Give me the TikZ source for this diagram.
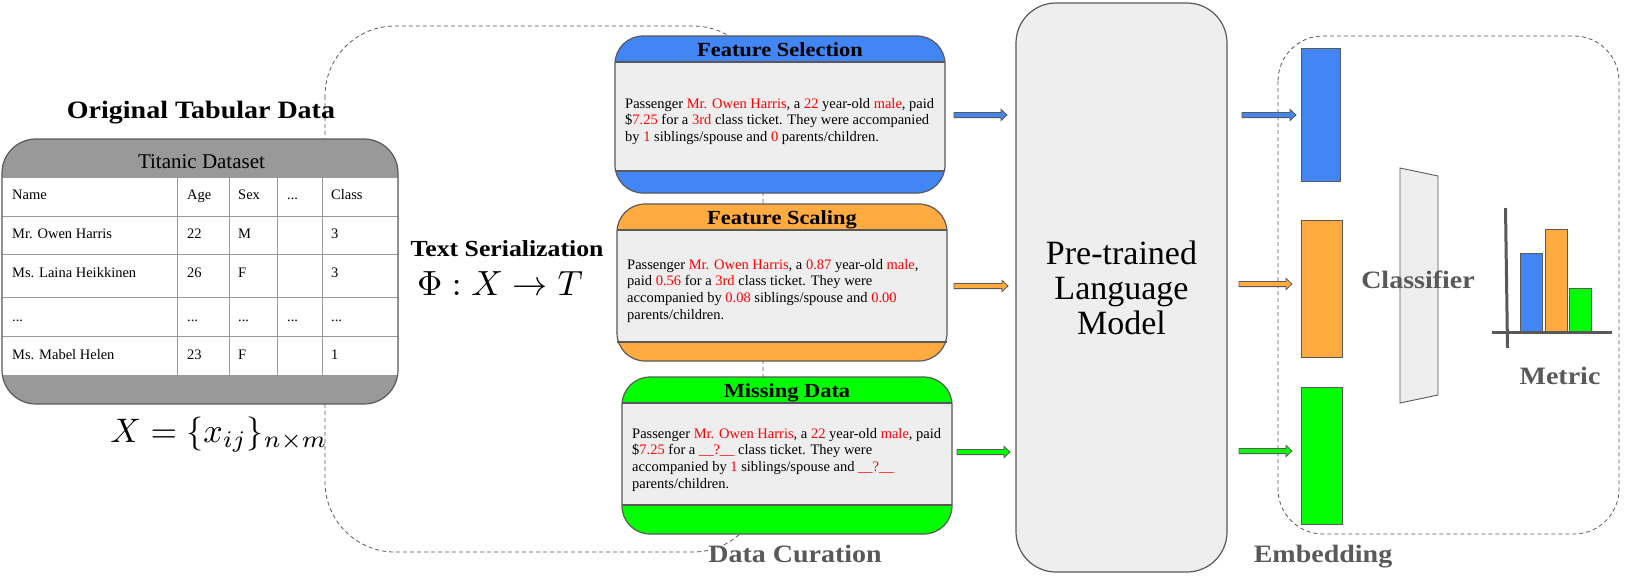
\documentclass[tikz,border=0pt]{standalone}
\usepackage{graphicx}
\usepackage{fontspec}
\setmainfont{Liberation Serif}
\newfontfamily\bfam{Liberation Serif}[FakeStretch=1.12]
\usetikzlibrary{calc}
\definecolor{cblue}{RGB}{66,133,244}
\definecolor{corange}{RGB}{255,171,64}
\definecolor{cgreen}{RGB}{0,255,0}
\definecolor{cbody}{RGB}{238,238,238}
\definecolor{cborder}{RGB}{89,89,89}
\definecolor{ctab}{RGB}{153,153,153}
\definecolor{cred}{RGB}{255,0,0}
\definecolor{clabel}{RGB}{89,89,89}
\newcommand{\rtx}[1]{\textcolor{cred}{#1}}
\tikzset{
  dashbox/.style={draw=cborder, line width=0.8pt, dash pattern=on 4pt off 3pt},
  outl/.style={draw=cborder, line width=1.2pt},
  tline/.style={draw=ctab, line width=1pt},
  bodytxt/.style={inner sep=0, align=left, anchor=north west, font=\fontsize{14.5}{16.6}\selectfont},
  boxtitle/.style={inner sep=0, anchor=base, font=\bfam\bfseries\fontsize{20}{22}\selectfont},
  graylabel/.style={inner sep=0, anchor=base, text=clabel, font=\bfam\bfseries\fontsize{25}{27}\selectfont},
  bigtitle/.style={inner sep=0, anchor=base, font=\bfam\bfseries\fontsize{25}{27}\selectfont},
  cell/.style={inner sep=0, anchor=base west, font=\fontsize{14.5}{16}\selectfont},
  embr/.style={draw=cborder, line width=1pt, inner sep=0},
  bar/.style={draw=cborder, line width=1pt, inner sep=0, anchor=south, minimum width=22pt},
  blockarr/.style={draw=cborder, line width=0.8pt, fill=#1,
    to path={let \p1=(\tikztostart), \p2=(\tikztotarget) in
      (\x1,\y1+2.6pt) -- (\x2-6pt,\y1+2.6pt) -- (\x2-6pt,\y1+5.6pt) -- (\x2,\y1)
      -- (\x2-6pt,\y1-5.6pt) -- (\x2-6pt,\y1-2.6pt) -- (\x1,\y1-2.6pt) -- cycle}},
}
\newcommand{\featbox}[7]{%
  \fill[#7, rounded corners=28pt] (#1,#2) rectangle (#3,#4);
  \fill[cbody] (#1,#5) rectangle (#3,#6);
  \draw[outl] (#1,#5) -- (#3,#5) (#1,#6) -- (#3,#6);
  \draw[outl, rounded corners=28pt] (#1,#2) rectangle (#3,#4);
}
\begin{document}
\begin{tikzpicture}[x=1pt,y=-1pt]
\useasboundingbox (0,0) rectangle (1632,576);
\fill[white] (0,0) rectangle (1632,576);

% dashed group frames
\draw[dashbox, rounded corners=70pt] (325,26) rectangle (763,552);
\draw[dashbox, rounded corners=45pt] (1278,36) rectangle (1619,534);

% ---------- Original tabular data ----------
\node[bigtitle] (ttl) at (201,118.3) {Original Tabular Data};
\coordinate (tnw) at (2,139);
\coordinate (tse) at (398,404);
\fill[ctab, rounded corners=34pt] (tnw) rectangle (tse);
\begin{scope}
  \clip[rounded corners=34pt] (tnw) rectangle (tse);
  \fill[white] (2,177) rectangle (398,375);
\end{scope}
\foreach \yy in {177,216,254,297,336,375} \draw[tline] (2,\yy) -- (398,\yy);
\foreach \xx in {177,229,277,322} \draw[tline] (\xx,177) -- (\xx,375);
\draw[outl, rounded corners=34pt] (tnw) rectangle (tse);
\node[inner sep=0, anchor=base, font=\fontsize{21}{23}\selectfont] (tth) at (201.5,168.6) {Titanic Dataset};

\node[cell] (c11) at (12,199) {Name};
\node[cell] (c12) at (187,199) {Age};
\node[cell] (c13) at (238,199) {Sex};
\node[cell] (c14) at (287,199) {...};
\node[cell] (c15) at (331,199) {Class};
\node[cell] (c21) at (12,238) {Mr. Owen Harris};
\node[cell] (c22) at (187,238) {22};
\node[cell] (c23) at (238,238) {M};
\node[cell] (c25) at (331,238) {3};
\node[cell] (c31) at (12,277) {Ms. Laina Heikkinen};
\node[cell] (c32) at (187,277) {26};
\node[cell] (c33) at (238,277) {F};
\node[cell] (c35) at (331,277) {3};
\node[cell] (c41) at (12,321) {...};
\node[cell] (c42) at (187,321) {...};
\node[cell] (c43) at (238,321) {...};
\node[cell] (c44) at (287,321) {...};
\node[cell] (c45) at (331,321) {...};
\node[cell] (c51) at (12,359) {Ms. Mabel Helen};
\node[cell] (c52) at (187,359) {23};
\node[cell] (c53) at (238,359) {F};
\node[cell] (c55) at (331,359) {1};

\node[inner sep=0, anchor=base] (xform) at (219,442) {\scalebox{3.4}{$X=\{x_{ij}\}_{n\times m}$}};

% ---------- Text serialization ----------
\node[bigtitle, font=\bfam\bfseries\fontsize{23}{25}\selectfont] (ts) at (507,256.6) {Text Serialization};
\node[inner sep=0, anchor=base] (phi) at (500,295) {\scalebox{3.5}{$\Phi : X \to T$}};

% ---------- Curated boxes ----------
\featbox{615}{36}{945}{193}{62}{171}{cblue}
\node[boxtitle] (fst) at (780,56.6) {Feature Selection};
\node[bodytxt] (fsb) at (625,98) {Passenger \rtx{Mr. Owen Harris}, a \rtx{22} year-old \rtx{male}, paid\\
\$\rtx{7.25} for a \rtx{3rd} class ticket. They were accompanied\\
by \rtx{1} siblings/spouse and \rtx{0} parents/children.};

\featbox{617}{204}{947}{361}{230}{342}{corange}
\node[boxtitle] (fct) at (782,224.6) {Feature Scaling};
\node[bodytxt] (fcb) at (627,259) {Passenger \rtx{Mr. Owen Harris}, a \rtx{0.87} year-old \rtx{male},\\
paid \rtx{0.56} for a \rtx{3rd} class ticket. They were\\
accompanied by \rtx{0.08} siblings/spouse and \rtx{0.00}\\
parents/children.};

\featbox{622}{377}{952}{534}{403}{505}{cgreen}
\node[boxtitle] (mdt) at (787,397.6) {Missing Data};
\node[bodytxt] (mdb) at (632,428) {Passenger \rtx{Mr. Owen Harris}, a \rtx{22} year-old \rtx{male}, paid\\
\$\rtx{7.25} for a \rtx{\_\_?\_\_} class ticket. They were\\
accompanied by \rtx{1} siblings/spouse and \rtx{\_\_?\_\_}\\
parents/children.};

\node[graylabel] (dc) at (795,562) {Data Curation};

% ---------- Language model ----------
\node[draw=cborder, line width=1.2pt, fill=cbody, rounded corners=40pt,
      minimum width=211pt, minimum height=569pt, inner sep=0, align=center,
      font=\fontsize{34}{35}\selectfont] (lm) at (1121.5,287.5) {Pre-trained\\Language\\Model};

\coordinate (a1s) at (954,115);  \coordinate (a1e) at (1007,115);
\coordinate (a2s) at (954,286);  \coordinate (a2e) at (1008,286);
\coordinate (a3s) at (957,452);  \coordinate (a3e) at (1010,452);
\draw[blockarr=cblue] (a1s) to (a1e);
\draw[blockarr=corange] (a2s) to (a2e);
\draw[blockarr=cgreen] (a3s) to (a3e);

% ---------- Embeddings ----------
\node[embr, fill=cblue, minimum width=39pt, minimum height=133pt] (eb) at (1320.5,114.5) {};
\node[embr, fill=corange, minimum width=41pt, minimum height=137pt] (eo) at (1321.5,288.5) {};
\node[embr, fill=cgreen, minimum width=41pt, minimum height=137pt] (eg) at (1321.5,455.5) {};

\coordinate (b1s) at (1242,115); \coordinate (b1e) at (1296,115);
\coordinate (b2s) at (1239,284); \coordinate (b2e) at (1292,284);
\coordinate (b3s) at (1239,451); \coordinate (b3e) at (1292,451);
\draw[blockarr=cblue] (b1s) to (b1e);
\draw[blockarr=corange] (b2s) to (b2e);
\draw[blockarr=cgreen] (b3s) to (b3e);

\node[graylabel] (emb) at (1323,562) {Embedding};

% ---------- Classifier ----------
\draw[draw=cborder, line width=0.9pt, fill=cbody] (1400,168) -- (1438,176) -- (1438,395) -- (1400,403) -- cycle;
\node[graylabel] (clf) at (1418,288) {Classifier};

% ---------- Metric chart ----------
\node[bar, fill=cblue, minimum height=78pt] (bb) at (1531.5,332) {};
\node[bar, fill=corange, minimum height=102pt] (bo) at (1556,332) {};
\node[bar, fill=cgreen, minimum height=43pt] (bg) at (1580,332) {};
\draw[cborder, line width=3pt] (1505.5,208) -- (1507.5,348);
\draw[cborder, line width=3pt] (1492,332) -- (1612,332);
\node[graylabel] (met) at (1560,384) {Metric};

\end{tikzpicture}
\end{document}
